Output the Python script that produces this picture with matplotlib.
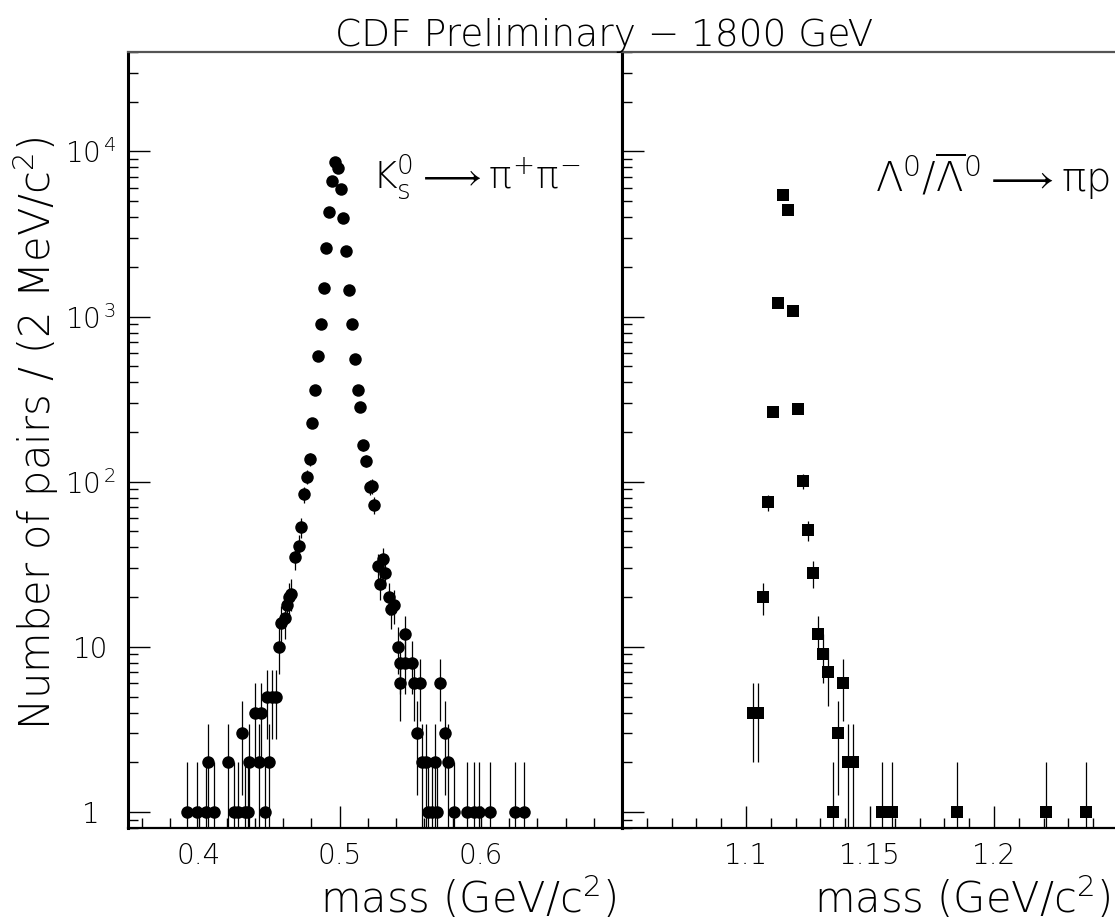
import numpy as np
import matplotlib
matplotlib.use("Agg")
import matplotlib.pyplot as plt
from matplotlib.ticker import MultipleLocator, LogLocator, FixedLocator, NullFormatter

FONT = "DejaVu Sans"
WEIGHT = 200
plt.rcParams["font.family"] = [FONT]
plt.rcParams["font.weight"] = WEIGHT
plt.rcParams["mathtext.fontset"] = "custom"
plt.rcParams["mathtext.rm"] = f"{FONT}:weight={WEIGHT}"
plt.rcParams["mathtext.it"] = f"{FONT}:weight={WEIGHT}"
plt.rcParams["mathtext.sf"] = f"{FONT}:weight={WEIGHT}"

# K0s -> pi+ pi- : pair mass (GeV/c^2) and number of pairs
ks_mass = [0.392, 0.399, 0.405, 0.4065, 0.411, 0.421, 0.425, 0.428, 0.431, 0.433,
           0.435, 0.436, 0.440, 0.443, 0.444, 0.447, 0.4485, 0.450, 0.452, 0.455,
           0.457, 0.4585, 0.461, 0.4625, 0.4644, 0.4658, 0.4686, 0.471, 0.4726, 0.475,
           0.4768, 0.4787, 0.4804, 0.4828, 0.4846, 0.4866, 0.4886, 0.4906, 0.4926, 0.4946,
           0.4966, 0.4986, 0.5006, 0.5026, 0.5046, 0.5066, 0.5086, 0.5106, 0.513, 0.5146,
           0.5165, 0.5187, 0.5215, 0.5226, 0.5246, 0.5272, 0.5288, 0.5307, 0.5323, 0.5347,
           0.5366, 0.5387, 0.5411, 0.543, 0.543, 0.5465, 0.5465, 0.5512, 0.5524, 0.5548,
           0.5572, 0.5583, 0.5614, 0.5626, 0.5654, 0.5673, 0.569, 0.5708, 0.5748, 0.5765,
           0.5807, 0.5902, 0.5949, 0.5984, 0.6067, 0.6239, 0.6308]
ks_count = [1, 1, 1, 2, 1, 2, 1, 1, 3, 1,
            1, 2, 4, 2, 4, 1, 5, 2, 5, 5,
            10, 14, 15, 18, 20, 21, 35, 41, 53, 84,
            107, 137, 226, 360, 578, 898, 1490, 2590, 4270, 6640,
            8570, 7940, 5910, 3940, 2500, 1450, 902, 551, 360, 285,
            167, 134, 93, 94, 72, 31, 24, 34, 28, 20,
            17, 18, 10, 8, 6, 12, 8, 8, 6, 3,
            6, 2, 2, 1, 1, 2, 1, 6, 3, 2,
            1, 1, 1, 1, 1, 1, 1]

# Lambda0 / anti-Lambda0 -> pi p
lam_mass = [1.103, 1.105, 1.107, 1.109, 1.111, 1.113, 1.115, 1.117, 1.119, 1.121,
            1.123, 1.125, 1.127, 1.129, 1.131, 1.133, 1.135, 1.137, 1.139, 1.141,
            1.143, 1.155, 1.159, 1.185, 1.221, 1.237]
lam_count = [4, 4, 20, 75, 265, 1210, 5440, 4410, 1080, 275,
             101, 51, 28, 12, 9, 7, 1, 3, 6, 2,
             2, 1, 1, 1, 1, 1]

ks_xlim = (0.35, 0.70)
lam_xlim = (1.05, 1.25)
y_lim = (0.8, 4.0e4)
ks_xticks = [0.4, 0.5, 0.6]
ks_xticklabels = ["0.4", "0.5", "0.6"]
lam_xticks = [1.1, 1.15, 1.2]
lam_xticklabels = ["1.1", "1.15", "1.2"]
y_ticks = [1, 10, 100, 1000, 10000]
y_ticklabels = ["1", "10", r"$10^{\,2}$", r"$10^{\,3}$", r"$10^{\,4}$"]

W, H = 1115, 922
fig = plt.figure(figsize=(W / 100, H / 100), dpi=100)

def px_axes(x0, y0, x1, y1):
    return fig.add_axes([x0 / W, 1 - y1 / H, (x1 - x0) / W, (y1 - y0) / H])

ax1 = px_axes(128, 52, 622, 828)
ax2 = px_axes(622, 52, 1118, 828)

def draw(ax, m, n, marker, ms):
    m = np.asarray(m, float)
    n = np.asarray(n, float)
    err = np.sqrt(n)
    lower = np.minimum(err, n - 1e-3)
    ax.errorbar(m, n, yerr=[lower, err], fmt="none", ecolor="black",
                elinewidth=0.9, capsize=0, zorder=2)
    ax.plot(m, n, linestyle="none", marker=marker, markersize=ms,
            color="black", markeredgewidth=0, zorder=3, clip_on=True)

draw(ax1, ks_mass, ks_count, "o", 9.0)
draw(ax2, lam_mass, lam_count, "s", 8.3)

TICK_FS = 20
for ax in (ax1, ax2):
    ax.set_yscale("log")
    ax.set_ylim(*y_lim)
    ax.yaxis.set_major_locator(FixedLocator(y_ticks))
    ax.yaxis.set_minor_locator(LogLocator(base=10, subs=np.arange(2, 10)))
    ax.yaxis.set_minor_formatter(NullFormatter())
    ax.tick_params(axis="both", which="both", direction="in", color="black",
                   width=1.0, top=False, right=False)
    ax.tick_params(axis="both", which="major", length=16)
    ax.tick_params(axis="both", which="minor", length=7.5)
    ax.tick_params(axis="x", which="major", labelsize=TICK_FS, pad=10)
    ax.tick_params(axis="y", which="major", labelsize=TICK_FS, pad=27)
    for side in ("left", "bottom", "right", "top"):
        ax.spines[side].set_color("black")
    ax.spines["top"].set_color("#555555")
    ax.spines["top"].set_linewidth(1.6)
    ax.spines["bottom"].set_linewidth(1.6)
    ax.spines["left"].set_linewidth(2.2)

ax1.spines["right"].set_linewidth(2.2)
ax2.spines["right"].set_visible(False)

ax1.set_xlim(*ks_xlim)
ax1.xaxis.set_major_locator(FixedLocator(ks_xticks))
ax1.set_xticklabels(ks_xticklabels)
ax1.xaxis.set_minor_locator(MultipleLocator(0.02))
ax1.set_yticklabels(y_ticklabels)
for lab in ax1.get_yticklabels():
    lab.set_horizontalalignment("center")

ax2.set_xlim(*lam_xlim)
ax2.xaxis.set_major_locator(FixedLocator(lam_xticks))
ax2.set_xticklabels(lam_xticklabels)
ax2.xaxis.set_minor_locator(MultipleLocator(0.01))
ax2.tick_params(axis="y", which="both", labelleft=False)

XLABEL_FS = 30
xlab = r"mass (GeV/c$^{2}$)"
fig.text(616 / W, 1 - 913 / H, xlab, ha="right", va="baseline", fontsize=XLABEL_FS)
fig.text(1110 / W, 1 - 913 / H, xlab, ha="right", va="baseline", fontsize=XLABEL_FS)

fig.text(36 / W, 1 - 137 / H, r"Number of pairs / (2 MeV/c$^{2}$)", rotation=90,
         ha="center", va="top", fontsize=30)

fig.text(604 / W, 1 - 46 / H, "CDF Preliminary \u2212 1800 GeV", ha="center",
         va="baseline", fontsize=27)

ax1.text(0.918, 0.84, r"K$_{\rm s}^{0}$$\longrightarrow$$\pi^{+}\pi^{-}$",
         transform=ax1.transAxes, ha="right", va="center", fontsize=27)
ax2.text(0.985, 0.84, r"$\Lambda^{0}/\overline{\Lambda}^{0}\longrightarrow\pi$p",
         transform=ax2.transAxes, ha="right", va="center", fontsize=29)

fig.savefig("out.png", dpi=100, facecolor="white")
